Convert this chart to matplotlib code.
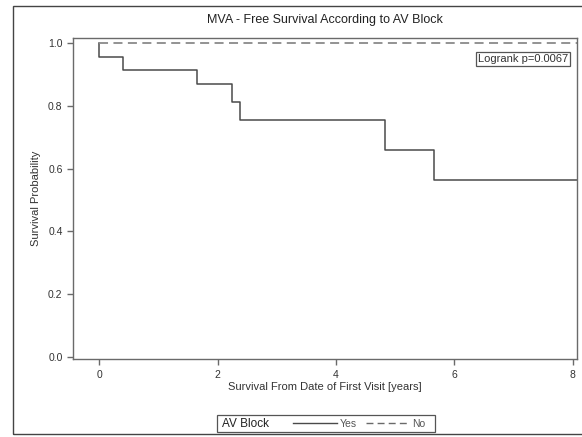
import matplotlib
matplotlib.use("Agg")
import matplotlib.pyplot as plt
from matplotlib.patches import Rectangle
from matplotlib.lines import Line2D

plt.rcParams['font.family'] = ['Liberation Sans', 'DejaVu Sans']

# Kaplan-Meier step data
yes_t = [0.0, 0.0, 0.41, 1.65, 2.25, 2.38, 4.82, 5.66, 8.07]
yes_s = [1.0, 0.957, 0.913, 0.870, 0.813, 0.754, 0.659, 0.565, 0.565]
no_t = [0.0, 8.07]
no_s = [1.0, 1.0]

xticks = [0, 2, 4, 6, 8]
yticks = [0.0, 0.2, 0.4, 0.6, 0.8, 1.0]

W, H = 582, 437
fig = plt.figure(figsize=(W / 100, H / 100), dpi=100)
ax = fig.add_axes([73 / W, 1 - 359 / H, (577 - 73) / W, (359 - 38) / H])

line_col = '#4a4a4a'
ax.step(yes_t, yes_s, where='post', color=line_col, lw=1.1)
ax.plot(no_t, no_s, color='#8a8a8a', lw=1.3, ls=(0, (5, 3)))

ax.set_xlim(-0.44, 8.07)
ax.set_ylim(-0.006, 1.016)
ax.set_xticks(xticks)
ax.set_yticks(yticks)
ax.set_yticklabels([f"{v:.1f}" for v in yticks])
for s in ax.spines.values():
    s.set_color('#6a6a6a')
    s.set_linewidth(1.0)
ax.tick_params(colors='#6a6a6a', labelcolor='#333333', labelsize=7.5, length=4, width=1)
ax.tick_params(axis='x', pad=4)

ax.set_title('MVA - Free Survival According to AV Block', fontsize=9, color='#222222', pad=11)
ax.set_xlabel('Survival From Date of First Visit [years]', fontsize=8, color='#333333', labelpad=1)
ax.set_ylabel('Survival Probability', fontsize=8, color='#333333', labelpad=5)

ax.text(0.982, 0.935, 'Logrank p=0.0067', transform=ax.transAxes, ha='right', va='center',
        fontsize=8, color='#333333',
        bbox=dict(boxstyle='square,pad=0.2', fc='white', ec='#555555', lw=0.9))

# bottom legend box
fig.patches.append(Rectangle((217 / W, 1 - 432 / H), 218 / W, 17 / H, transform=fig.transFigure,
                             fill=False, ec='#555555', lw=0.9))
fig.text(222 / W, 1 - 424 / H, 'AV Block', fontsize=8.5, color='#222222', va='center', ha='left')
handles = [Line2D([], [], color=line_col, lw=1.0),
           Line2D([], [], color='#6a6a6a', lw=1.0, ls=(0, (5, 3)))]
fig.legend(handles, ['Yes', 'No'], loc='center left', bbox_to_anchor=(288 / W, 1 - 424 / H),
           ncol=2, frameon=False, fontsize=7.5, handlelength=4.2, handletextpad=0.3,
           columnspacing=0.8, borderpad=0, labelcolor='#555555')

# outer frame
fig.patches.append(Rectangle((12.5 / W, 1 - 434 / H), 1.0, (434 - 6) / H, transform=fig.transFigure,
                             fill=False, ec='#444444', lw=1.0))

fig.savefig('out.png', dpi=100)
